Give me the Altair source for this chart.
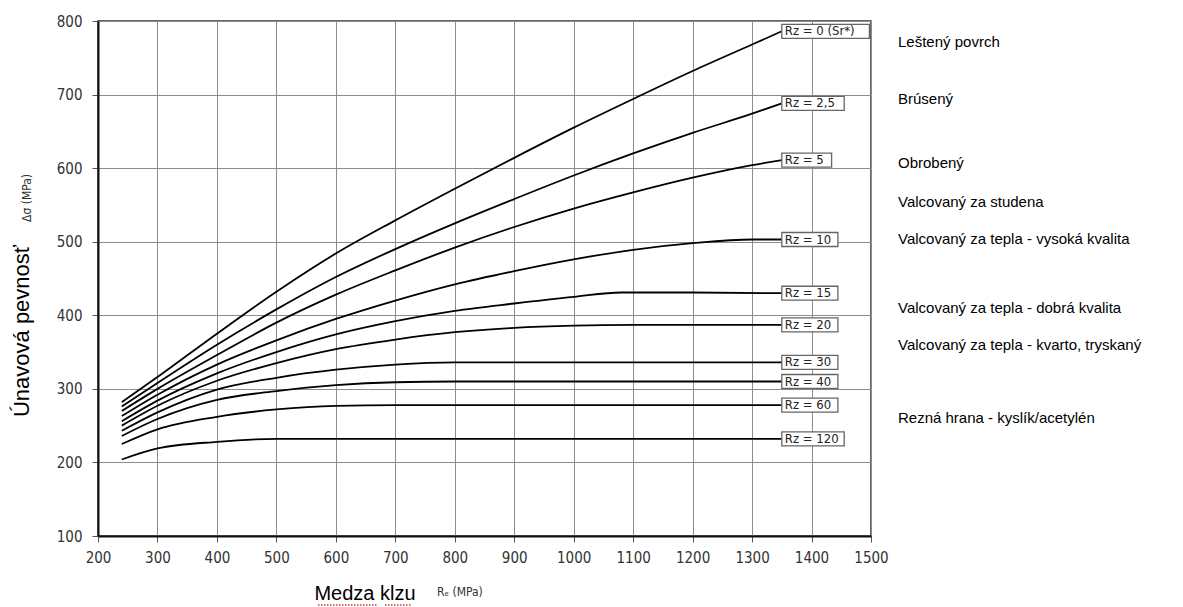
import altair as alt
import pandas as pd

# ---------------- data ----------------
curve_labels = ["Rz = 0 (Sr*)", "Rz = 2,5", "Rz = 5", "Rz = 10", "Rz = 15",
                "Rz = 20", "Rz = 30", "Rz = 40", "Rz = 60", "Rz = 120"]

re_rz0 = [240, 300, 400, 500, 600, 700, 800, 900, 1000, 1100, 1200, 1300, 1350]
sig_rz0 = [282, 316, 375, 432, 484, 529, 572, 614, 655, 694, 732, 768, 786]

re_rz2_5 = [240, 300, 400, 500, 600, 700, 800, 900, 1000, 1100, 1200, 1300, 1350]
sig_rz2_5 = [276, 308, 360, 408, 452, 490, 525, 558, 590, 620, 648, 674, 688]

re_rz5 = [240, 300, 400, 500, 600, 700, 800, 900, 1000, 1100, 1200, 1300, 1350]
sig_rz5 = [270, 300, 346, 390, 428, 461, 492, 520, 545, 567, 587, 604, 611]

re_rz10 = [240, 300, 400, 500, 600, 700, 800, 900, 1000, 1100, 1200, 1300, 1350]
sig_rz10 = [263, 292, 333, 366, 395, 420, 442, 460, 476, 489, 498, 503, 503]

re_rz15 = [240, 300, 400, 500, 600, 700, 800, 900, 1000, 1080, 1200, 1350]
sig_rz15 = [256, 284, 321, 350, 374, 392, 406, 416, 425, 431, 431, 430]

re_rz20 = [240, 300, 400, 500, 600, 700, 800, 900, 1000, 1100, 1350]
sig_rz20 = [250, 277, 311, 335, 354, 367, 377, 383, 386, 387, 387]

re_rz30 = [240, 300, 400, 500, 600, 700, 800, 1350]
sig_rz30 = [243, 268, 299, 315, 326, 333, 336, 336]

re_rz40 = [240, 300, 400, 500, 600, 700, 800, 1350]
sig_rz40 = [236, 259, 285, 297, 305, 309, 310, 310]

re_rz60 = [240, 300, 400, 500, 600, 700, 1350]
sig_rz60 = [225, 245, 262, 272, 277, 278, 278]

re_rz120 = [240, 300, 400, 500, 600, 1350]
sig_rz120 = [204, 219, 228, 232, 232, 232]

x_ticks = list(range(200, 1501, 100))
y_ticks = list(range(100, 801, 100))

descriptions = ["Leštený povrch", "Brúsený", "Obrobený", "Valcovaný za studena",
                "Valcovaný za tepla - vysoká kvalita",
                "Valcovaný za tepla - dobrá kvalita",
                "Valcovaný za tepla - kvarto, tryskaný",
                "Rezná hrana - kyslík/acetylén"]

y_title = "Únavová pevnosť"
y_unit = "Δσ (MPa)"
x_title = "Medza klzu"
x_unit = "Rₑ (MPa)"

# ---------------- layout / style ----------------
W, H = 773, 515
PAD = {"left": 98, "top": 21, "right": 312, "bottom": 71}
desc_y_px = [21, 78, 142, 181, 218, 287, 324, 397]   # relative to plot top
COND = "DejaVu Sans Condensed, Liberation Sans Narrow, sans-serif"
SANS = "Liberation Sans, Arial, sans-serif"

series = [(re_rz0, sig_rz0), (re_rz2_5, sig_rz2_5), (re_rz5, sig_rz5),
          (re_rz10, sig_rz10), (re_rz15, sig_rz15), (re_rz20, sig_rz20),
          (re_rz30, sig_rz30), (re_rz40, sig_rz40), (re_rz60, sig_rz60),
          (re_rz120, sig_rz120)]

rows = []
for lab, (xs, ys) in zip(curve_labels, series):
    for xv, yv in zip(xs, ys):
        rows.append({"curve": lab, "Re": xv, "sigma": yv})
df = pd.DataFrame(rows)

# label boxes at curve ends
box_rows = []
for lab, (xs, ys) in zip(curve_labels, series):
    wpx = 6.3 * len(lab) + 12
    wunits = wpx * (1300 / W)
    box_rows.append({"curve": lab, "Re": xs[-1], "Re2": xs[-1] + wunits,
                     "sigma": ys[-1], "s0": ys[-1] - 9.5, "s1": ys[-1] + 9.5})
bdf = pd.DataFrame(box_rows)

xscale = alt.Scale(domain=[200, 1500], nice=False, zero=False)
yscale = alt.Scale(domain=[100, 800], nice=False, zero=False)

xaxis = alt.Axis(values=x_ticks, format="d", title=None, grid=True,
                 labelFont=COND, labelFontSize=15, labelColor="#333",
                 labelPadding=8, tickSize=6, tickColor="#555",
                 domainColor="#111", domainWidth=2, gridColor="#8c8c8c",
                 gridWidth=1, labelFlush=False)
yaxis = alt.Axis(values=y_ticks, format="d", title=None, grid=True,
                 labelFont=COND, labelFontSize=15, labelColor="#333",
                 labelPadding=10, tickSize=6, tickColor="#555",
                 domainColor="#111", domainWidth=2, gridColor="#8c8c8c",
                 gridWidth=1, labelFlush=False)

lines = alt.Chart(df).mark_line(color="black", strokeWidth=1.8,
                                interpolate="monotone").encode(
    x=alt.X("Re:Q", scale=xscale, axis=xaxis),
    y=alt.Y("sigma:Q", scale=yscale, axis=yaxis),
    detail="curve:N",
    order="Re:Q",
)

boxes = alt.Chart(bdf).mark_rect(fill="white", stroke="#666",
                                 strokeWidth=1.3, clip=False).encode(
    x=alt.X("Re:Q", scale=xscale, axis=xaxis), x2="Re2:Q",
    y=alt.Y("s0:Q", scale=yscale, axis=yaxis), y2="s1:Q",
)
box_text = alt.Chart(bdf).mark_text(align="left", baseline="middle", dx=3,
                                    font=COND, fontSize=13, color="#222",
                                    clip=False).encode(
    x=alt.X("Re:Q", scale=xscale, axis=xaxis),
    y=alt.Y("sigma:Q", scale=yscale, axis=yaxis),
    text="curve:N",
)

ddf = pd.DataFrame({"t": descriptions, "py": desc_y_px})
desc = alt.Chart(ddf).mark_text(align="left", baseline="middle", font=SANS,
                                fontSize=15, color="black").encode(
    x=alt.value(800),
    y=alt.value(0),
    yOffset=alt.YOffset("py:Q", scale=None),
    text="t:N",
)

def label(txt, x, y, font, size, angle=0, align="center", color="black"):
    d = pd.DataFrame({"t": [txt]})
    kw = dict(align=align, baseline="middle", font=font, fontSize=size,
              color=color)
    if angle:
        kw["angle"] = angle
    return alt.Chart(d).mark_text(**kw).encode(
        x=alt.value(x), y=alt.value(y), text="t:N")

ytitle = label(y_title, -76, 310, SANS, 22, angle=270)
yunit = label(y_unit, -71, 177, COND, 12, angle=270, color="#333")
xtitle = label(x_title, 267, 573, SANS, 20)
xunit = label(x_unit, 339, 571, COND, 12, align="left", color="#333")


def squig(x0, x1):
    d = pd.DataFrame({"k": [0]})
    return alt.Chart(d).mark_rule(color="#e03030", strokeWidth=1.5,
                                  strokeDash=[1.5, 1.5]).encode(
        x=alt.value(x0), x2=alt.value(x1), y=alt.value(584))


chart = alt.layer(lines, boxes, box_text, desc, ytitle, yunit, xtitle, xunit,
                  squig(220, 280), squig(287, 314)).properties(
    width=W, height=H,
    autosize=alt.AutoSizeParams(type="none"),
    padding=PAD,
    background="white",
).configure_view(stroke="#333", strokeWidth=1.5)

chart.save("out.html", embed_options={"renderer": "svg", "actions": False})
